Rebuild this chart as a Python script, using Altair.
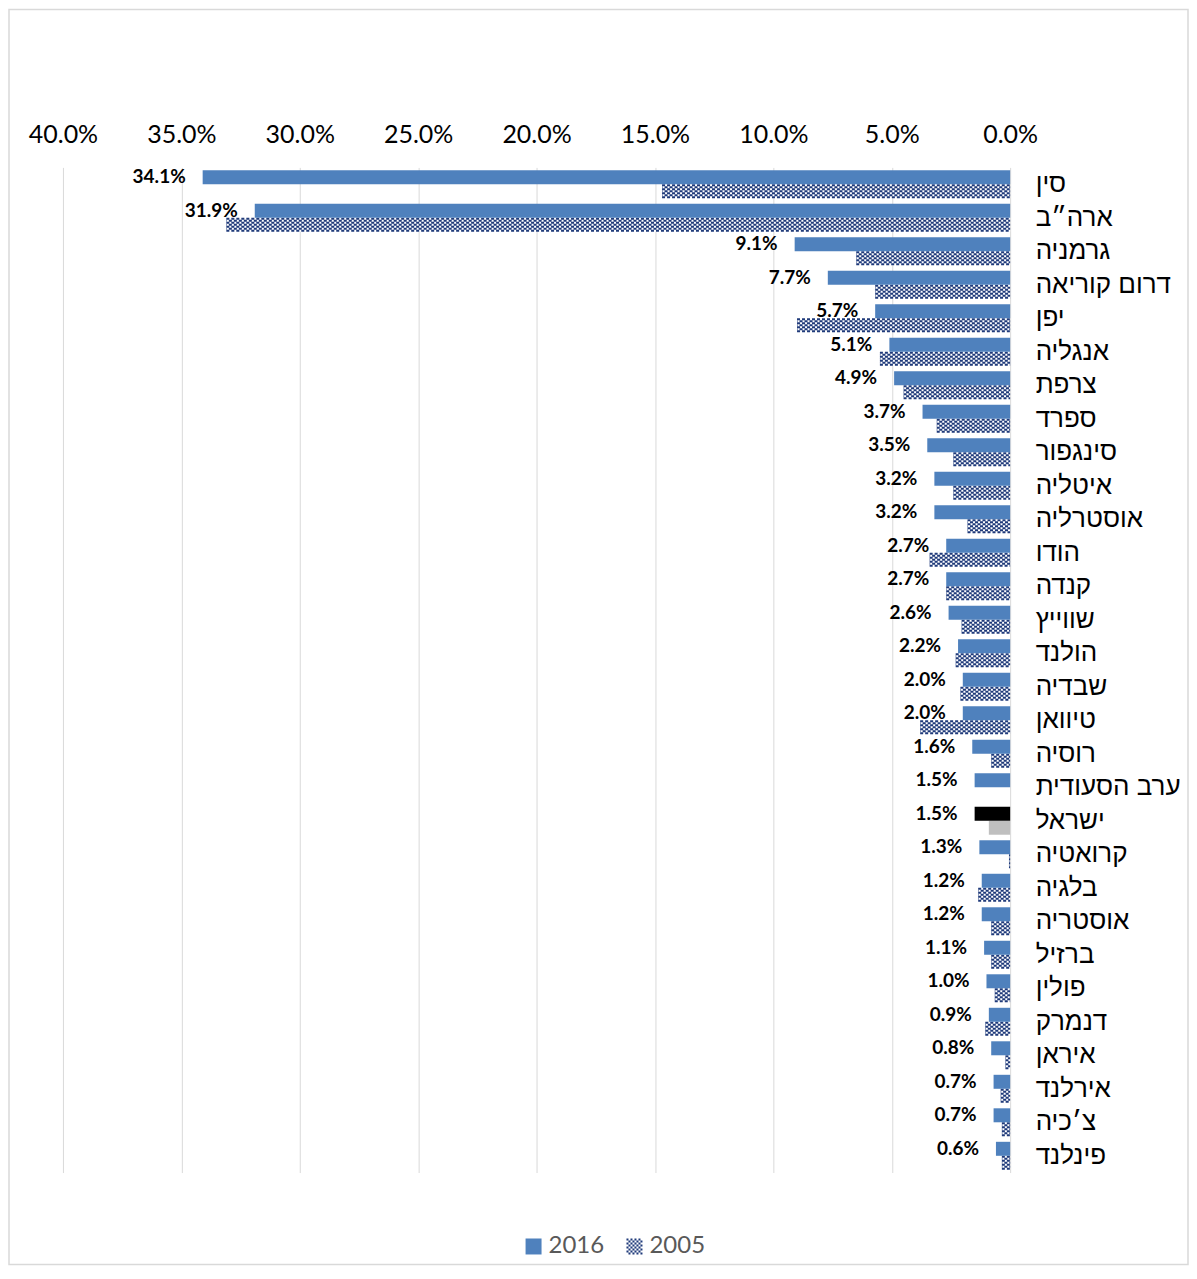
import altair as alt
import pandas as pd

countries = ["סין", "ארה״ב", "גרמניה", "דרום קוריאה", "יפן", "אנגליה", "צרפת", "ספרד",
             "סינגפור", "איטליה", "אוסטרליה", "הודו", "קנדה", "שווייץ", "הולנד", "שבדיה",
             "טיוואן", "רוסיה", "ערב הסעודית", "ישראל", "קרואטיה", "בלגיה", "אוסטריה",
             "ברזיל", "פולין", "דנמרק", "איראן", "אירלנד", "צ׳כיה", "פינלנד"]
v2016 = [34.1, 31.9, 9.1, 7.7, 5.7, 5.1, 4.9, 3.7, 3.5, 3.2, 3.2, 2.7, 2.7, 2.6, 2.2, 2.0,
         2.0, 1.6, 1.5, 1.5, 1.3, 1.2, 1.2, 1.1, 1.0, 0.9, 0.8, 0.7, 0.7, 0.6]
v2005 = [14.7, 33.1, 6.5, 5.7, 9.0, 5.5, 4.5, 3.1, 2.4, 2.4, 1.8, 3.4, 2.7, 2.05, 2.3, 2.1,
         3.8, 0.8, 0.0, 0.9, 0.05, 1.35, 0.8, 0.8, 0.65, 1.05, 0.2, 0.4, 0.35, 0.35]
series_names = ["2016", "2005"]
tick_values = [0.0, 0.05, 0.10, 0.15, 0.20, 0.25, 0.30, 0.35, 0.40]

HIGHLIGHT = "ישראל"
BLUE = "#4f81bd"
NAVY = "#1f3a7a"

df = pd.DataFrame({
    "country": countries,
    "y2016": [v / 100 for v in v2016],
    "y2005": [v / 100 for v in v2005],
})

W, H = 948, 1006
BAR_H = 14

xscale = alt.Scale(domain=[0, 0.4], reverse=True, nice=False, zero=True)
x_axis = alt.Axis(orient="top", values=tick_values, format=".1%", grid=True,
                  gridColor="#d9d9d9", gridWidth=1, domain=False, ticks=False, tickSize=0,
                  labelFlush=False, labelOverlap=False,
                  labelFont="Lato", labelFontSize=25, labelColor="#000000",
                  labelPadding=20, title=None)
y_axis = alt.Axis(orient="right", domain=False, ticks=False, tickSize=0, grid=False,
                  labelFont="Liberation Sans", labelFontSize=26, labelColor="#000000",
                  labelPadding=25, labelLimit=400, title=None)
yenc = alt.Y("country:N", sort=countries, axis=y_axis,
             scale=alt.Scale(paddingInner=0, paddingOuter=0))

base = alt.Chart(df)
is_hl = alt.datum.country == HIGHLIGHT

# outer frame (decoration)
frame = alt.Chart(alt.Data(values=[{"a": 1}])).mark_rect(
    fill="white", fillOpacity=0, stroke="#d9d9d9", strokeWidth=1.5
).encode(x=alt.value(-54), x2=alt.value(1126), y=alt.value(-158), y2=alt.value(1098))

bar2005_base = base.mark_bar(height=BAR_H, yOffset=BAR_H / 2).encode(
    x=alt.X("y2005:Q", scale=xscale, axis=x_axis),
    y=yenc,
    color=alt.condition(is_hl, alt.value("#bfbfbf"), alt.value("white")),
)

hatch_layers = []
for k in range(7):
    hatch_layers.append(
        base.transform_filter(alt.datum.country != HIGHLIGHT).mark_rule(
            strokeWidth=2, strokeDash=[3, 2], strokeDashOffset=(0 if k % 2 == 0 else 2.5),
            color=NAVY, yOffset=1 + 2 * k
        ).encode(x="y2005:Q", x2=alt.datum(0), y=yenc)
    )

bar2016 = base.mark_bar(height=BAR_H, yOffset=-BAR_H / 2).encode(
    x="y2016:Q",
    y=yenc,
    color=alt.condition(is_hl, alt.value("black"), alt.value(BLUE)),
)

labels = base.mark_text(align="right", baseline="middle", dx=-17, yOffset=-BAR_H / 2,
                        font="Lato", fontWeight="bold", fontSize=19, color="black").encode(
    x="y2016:Q", y=yenc, text=alt.Text("y2016:Q", format=".1%"))

# checker swatch path for the 2005 legend symbol
cells = []
for i in range(8):
    for j in range(8):
        if (i + j) % 2 == 0:
            cells.append(f"M{-1 + j * 0.25:.2f},{-1 + i * 0.25:.2f}h0.25v0.25h-0.25Z")
checker = "".join(cells)

leg = dict(title=None, orient="none", legendX=459, legendY=1068, direction="horizontal",
           symbolSize=256, symbolStrokeWidth=0, symbolOpacity=1, labelFont="Lato",
           labelFontSize=24, labelColor="#595959", columnPadding=18, labelOffset=3)

legend_layer = base.transform_fold(["y2016", "y2005"], as_=["key", "val"]).transform_calculate(
    series="substring(datum.key, 1)"
).mark_point(filled=True, opacity=0).encode(
    x="val:Q", y=yenc,
    color=alt.Color("series:N", scale=alt.Scale(domain=series_names, range=[BLUE, NAVY]),
                    legend=alt.Legend(**leg)),
    shape=alt.Shape("series:N", scale=alt.Scale(domain=series_names, range=["square", checker]),
                    legend=alt.Legend(**leg)),
)

chart = alt.layer(frame, bar2005_base, *hatch_layers, bar2016, labels, legend_layer).properties(
    width=W, height=H, padding=0, background="white"
).configure_view(stroke=None)

chart.save("out.html", embed_options={"renderer": "svg", "actions": False})
